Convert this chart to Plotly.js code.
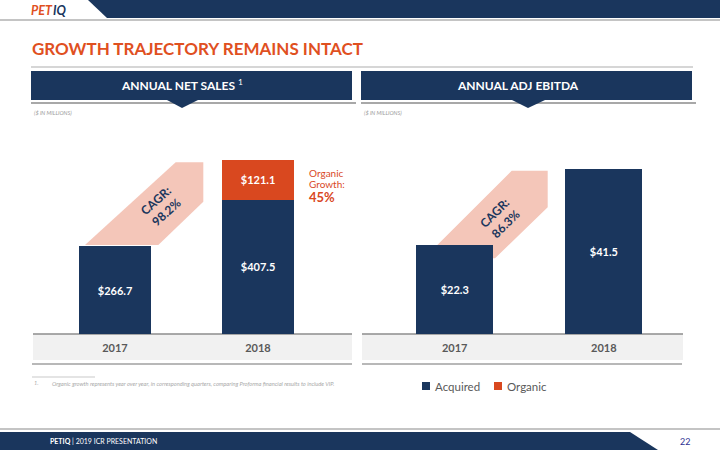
<!DOCTYPE html>
<html><head><meta charset="utf-8">
<script src="https://cdn.plot.ly/plotly-3.0.1.min.js"></script>
<style>html,body{margin:0;padding:0;background:#fff}#chart{width:720px;height:450px}</style>
</head><body><div id="chart"></div>
<script>
// ---- data ----
const years = ['2017', '2018'];
const salesAcquired = [266.7, 407.5];
const salesOrganicYears = ['2018'];
const salesOrganic = [121.1];
const ebitda = [22.3, 41.5];
const salesCagr = '98.2%';
const ebitdaCagr = '86.3%';
const organicGrowth = '45%';
const seriesNames = ['Acquired', 'Organic'];

// ---- style ----
const NAVY = '#1a365d', ORANGE = '#d9481f', TITLE = '#e0501f', PINK = '#f4c6b9';
const FONT = 'Lato, "Open Sans", sans-serif';
const W = 720, H = 450;
const px = x => x / W, py = y => 1 - y / H;
function poly(pts, fill, layer) {
  return {type: 'path', xref: 'paper', yref: 'paper', layer: layer || 'below',
    path: 'M' + pts.map(p => px(p[0]) + ',' + py(p[1])).join('L') + 'Z',
    fillcolor: fill, line: {width: 0}};
}
function rect(x0, y0, x1, y1, fill, layer) {
  return {type: 'rect', xref: 'paper', yref: 'paper', layer: layer || 'below',
    x0: px(x0), x1: px(x1), y0: py(y0), y1: py(y1), fillcolor: fill, line: {width: 0}};
}
function hline(x0, x1, y, color, w) {
  return {type: 'line', xref: 'paper', yref: 'paper', layer: 'below',
    x0: px(x0), x1: px(x1), y0: py(y), y1: py(y), line: {color: color, width: w}};
}
function txt(x, y, text, size, color, opts) {
  return Object.assign({xref: 'paper', yref: 'paper', x: px(x), y: py(y), text: text,
    showarrow: false, xanchor: 'left', yanchor: 'middle',
    font: {family: FONT, size: size, color: color}}, opts || {});
}

const barText = {family: FONT, size: 11, color: '#ffffff', weight: 700};
const traces = [
  {type: 'bar', name: seriesNames[0], x: years, y: salesAcquired, xaxis: 'x', yaxis: 'y',
   marker: {color: NAVY}, width: 0.51, texttemplate: '$%{y:.1f}', textposition: 'inside',
   insidetextanchor: 'middle', textfont: barText, hoverinfo: 'skip'},
  {type: 'bar', name: seriesNames[1], x: salesOrganicYears, y: salesOrganic, xaxis: 'x', yaxis: 'y',
   marker: {color: ORANGE}, width: 0.51, texttemplate: '$%{y:.1f}', textposition: 'inside',
   insidetextanchor: 'middle', textfont: barText, hoverinfo: 'skip'},
  {type: 'bar', name: 'Adj EBITDA', x: years, y: ebitda, xaxis: 'x2', yaxis: 'y2',
   marker: {color: NAVY}, width: 0.516, texttemplate: '$%{y:.1f}', textposition: 'inside',
   insidetextanchor: 'middle', textfont: barText, hoverinfo: 'skip'}
];

const total2018 = salesAcquired[1] + salesOrganic[0];

const axisX = {type: 'category', range: [-0.5, 1.5], showgrid: false, zeroline: false, showline: false,
  ticks: '', ticklabelstandoff: 6, tickfont: {family: FONT, size: 11, color: '#595959', weight: 700}, fixedrange: true};
const axisY = {showgrid: false, zeroline: false, showline: false, showticklabels: false, ticks: '', fixedrange: true};

const shapes = [
  // top banner
  poly([[88,0],[720,0],[720,18],[107,18]], NAVY),
  hline(0, 720, 20, '#b0b0b0', 1.5),
  hline(31, 693, 67, '#c8c8c8', 1.5),
  // header boxes
  hline(31, 356, 103, '#a8a8a8', 2),
  rect(31, 71, 352, 100, NAVY),
  poly([[167,100],[198,100],[182,108]], NAVY),
  hline(361, 696, 103, '#a8a8a8', 2),
  rect(361, 71, 692, 100, NAVY),
  poly([[512,100],[545,100],[528,108]], NAVY),
  // category bands
  rect(33, 334, 352, 360, '#f1f1f1'),
  rect(362, 334, 683, 360, '#f1f1f1'),
  hline(33, 352, 334, '#8c8c8c', 1.5),
  hline(362, 683, 334, '#8c8c8c', 1.5),
  hline(32, 352, 364, '#a0a0a0', 1.5),
  hline(362, 682, 364, '#a0a0a0', 1.5),
  // CAGR ribbons
  poly([[85,245],[175.7,162.3],[203.3,162.3],[203.3,201.7],[158.3,245]], PINK),
  poly([[437.3,245],[511.7,170.7],[547.7,170.7],[547.7,207.3],[495,258.3],[480,258.3],[480,245]], PINK),
  // legend swatches
  rect(422, 382, 430, 390, NAVY, 'above'),
  rect(494, 382, 502, 390, ORANGE, 'above'),
  // footnote rule
  hline(32, 95, 377, '#bbbbbb', 0.8),
  // footer
  hline(0, 720, 429, '#b0b0b0', 1.5),
  poly([[0,432],[630,432],[658,450],[0,450]], NAVY)
];

const annotations = [
  // logo
  txt(29, 10, '<b><i>PET</i></b>', 12.5, TITLE),
  txt(51, 10, '<b><i>IQ</i></b>', 12.5, NAVY),
  txt(30, 48, '<b>GROWTH TRAJECTORY REMAINS INTACT</b>', 17, TITLE),
  txt(182, 85, '<b>ANNUAL NET SALES</b> <sup>1</sup>', 12, '#ffffff', {xanchor: 'center'}),
  txt(518, 85, '<b>ANNUAL ADJ EBITDA</b>', 12, '#ffffff', {xanchor: 'center'}),
  txt(32, 113, '<i>($ IN MILLIONS)</i>', 5.5, '#9a9a9a'),
  txt(362, 113, '<i>($ IN MILLIONS)</i>', 5.5, '#9a9a9a'),
  // total label
  {xref: 'x', yref: 'y', x: years[1], y: total2018, yanchor: 'bottom', yshift: 4, showarrow: false,
   text: '<b>$' + total2018.toFixed(1) + '</b>', font: {family: FONT, size: 13, color: '#111111'}},
  txt(307, 173, 'Organic', 10, ORANGE),
  txt(307, 184.5, 'Growth:', 10, ORANGE),
  txt(307, 197, '<b>' + organicGrowth + '</b>', 13, ORANGE),
  // CAGR text
  txt(161, 206, '<b>CAGR:<br>' + salesCagr + '</b>', 12, NAVY, {xanchor: 'center', textangle: -42}),
  txt(500, 218, '<b>CAGR:<br>' + ebitdaCagr + '</b>', 12, NAVY, {xanchor: 'center', textangle: -45}),
  // legend
  txt(433, 386, seriesNames[0], 11.5, '#595959'),
  txt(505, 386, seriesNames[1], 11.5, '#595959'),
  // footnote
  txt(32, 383, '<i>1.</i>', 5.5, '#a8a8a8'),
  txt(50, 383, '<i>Organic growth represents year over year, in corresponding quarters, comparing Proforma financial results to include VIP.</i>', 5.7, '#a8a8a8'),
  // footer
  txt(48, 440.5, '<b>PETIQ</b> | 2019 ICR PRESENTATION', 7, '#ffffff'),
  txt(685, 441, '22', 9, '#2e3192', {xanchor: 'center'})
];

const layout = {
  width: W, height: H, margin: {l: 0, r: 0, t: 0, b: 0},
  paper_bgcolor: '#ffffff', plot_bgcolor: 'rgba(0,0,0,0)',
  barmode: 'stack', showlegend: false,
  font: {family: FONT},
  xaxis: Object.assign({}, axisX, {domain: [px(43.5), px(329.5)], anchor: 'y'}),
  yaxis: Object.assign({}, axisY, {domain: [py(334), py(136.5)], range: [0, 600], anchor: 'x'}),
  xaxis2: Object.assign({}, axisX, {domain: [px(380.2), px(678.4)], anchor: 'y2'}),
  yaxis2: Object.assign({}, axisY, {domain: [py(334), py(134.8)], range: [0, 50], anchor: 'x2'}),
  shapes: shapes, annotations: annotations
};

Plotly.newPlot('chart', traces, layout, {staticPlot: true, displayModeBar: false});
</script></body></html>
